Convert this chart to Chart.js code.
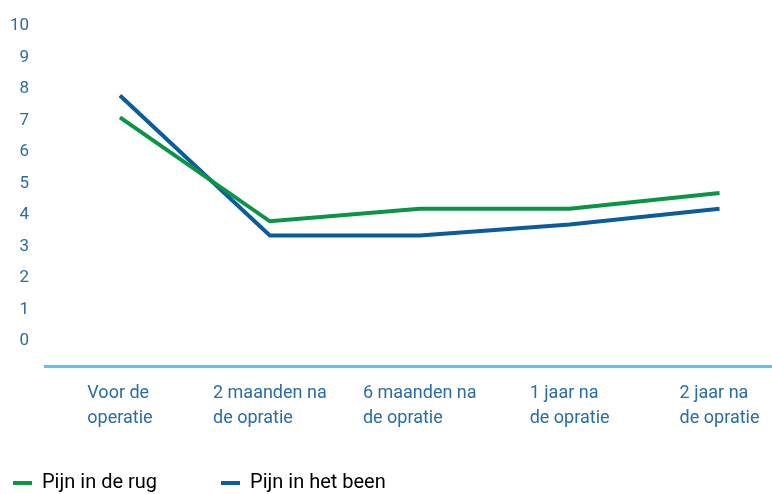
<!DOCTYPE html>
<html>
<head>
<meta charset="utf-8">
<script src="https://cdn.jsdelivr.net/npm/chart.js@4/dist/chart.umd.min.js"></script>
<style>
  html, body { margin: 0; padding: 0; background: #fff; }
  #wrap { width: 772px; height: 494px; }
</style>
</head>
<body>
<div id="wrap"><canvas id="painChart" width="772" height="494"></canvas></div>
<script>
// Data
const categories = [
  ["Voor de", "operatie"],
  ["2 maanden na", "de opratie"],
  ["6 maanden na", "de opratie"],
  ["1 jaar na", "de opratie"],
  ["2 jaar na", "de opratie"],
];
const seriesNames = ["Pijn in de rug", "Pijn in het been"];
const rugPain = [7.1, 3.8, 4.2, 4.2, 4.7];
const legPain = [7.8, 3.35, 3.35, 3.7, 4.2];
const yTicks = [0, 1, 2, 3, 4, 5, 6, 7, 8, 9, 10];

const GREEN = "#0a9446";
const BLUE = "#0a5c9c";
const TEXT = "#2a6ca6";
const AXIS = "#5ec4ee";
const FONT = "Roboto";

// legend spacing: second item should start near x=221
const mctx = document.createElement("canvas").getContext("2d");
mctx.font = `20px ${FONT}`;
const legendPad = Math.max(10, Math.round(179 - mctx.measureText(seriesNames[0]).width));

// draw the multi-line category labels, left aligned inside a block centered on the tick
const categoryLabels = {
  id: "categoryLabels",
  afterLayout(chart) {
    // legend starts at left + padding; pull it back so the first box sits at x=13
    if (chart.legend) chart.legend.left = 13 - legendPad;
  },
  afterDraw(chart) {
    const xs = chart.scales.x;
    const ctx = chart.ctx;
    ctx.save();
    ctx.font = `18px ${FONT}`;
    ctx.fillStyle = TEXT;
    ctx.textAlign = "left";
    ctx.textBaseline = "middle";
    categories.forEach((lines, i) => {
      const cx = xs.getPixelForValue(i);
      const w = Math.max(...lines.map((l) => ctx.measureText(l).width));
      lines.forEach((l, j) => {
        ctx.fillText(l, cx - w / 2, xs.top + 27 + j * 25);
      });
    });
    ctx.restore();
  },
};

function toPoints(values) {
  return values.map((v, i) => ({ x: i, y: v }));
}

new Chart(document.getElementById("painChart"), {
  type: "line",
  data: {
    datasets: [
      { label: seriesNames[0], data: toPoints(rugPain), borderColor: GREEN, backgroundColor: GREEN },
      { label: seriesNames[1], data: toPoints(legPain), borderColor: BLUE, backgroundColor: BLUE },
    ],
  },
  options: {
    responsive: false,
    animation: false,
    layout: { padding: { top: 20, left: 3, right: 0, bottom: 0 } },
    elements: {
      line: { borderWidth: 4, tension: 0, borderJoinStyle: "miter" },
      point: { radius: 0, hoverRadius: 0 },
    },
    scales: {
      x: {
        type: "linear",
        min: -0.5,
        max: 4.35,
        grid: { display: false, drawTicks: false },
        border: { display: true, color: AXIS, width: 3 },
        ticks: { display: false },
        afterFit: (s) => { s.height = 107 - legendPad; },
      },
      y: {
        min: -0.8,
        max: 10,
        grid: { display: false, drawTicks: false },
        border: { display: false },
        afterBuildTicks: (s) => { s.ticks = yTicks.map((v) => ({ value: v })); },
        afterFit: (s) => { s.width = 42; },
        ticks: {
          padding: 16,
          color: TEXT,
          font: { family: FONT, size: 17 },
        },
      },
    },
    plugins: {
      tooltip: { enabled: false },
      legend: {
        position: "bottom",
        align: "start",
        maxHeight: legendPad + 21,
        labels: {
          boxWidth: 19,
          boxHeight: 4,
          padding: legendPad,
          color: TEXT,
          font: { family: FONT, size: 20 },
          generateLabels: (chart) =>
            chart.data.datasets.map((ds, i) => ({
              text: ds.label,
              fillStyle: ds.borderColor,
              strokeStyle: ds.borderColor,
              lineWidth: 0,
              hidden: false,
              datasetIndex: i,
            })),
        },
      },
    },
  },
  plugins: [categoryLabels],
});
</script>
</body>
</html>
